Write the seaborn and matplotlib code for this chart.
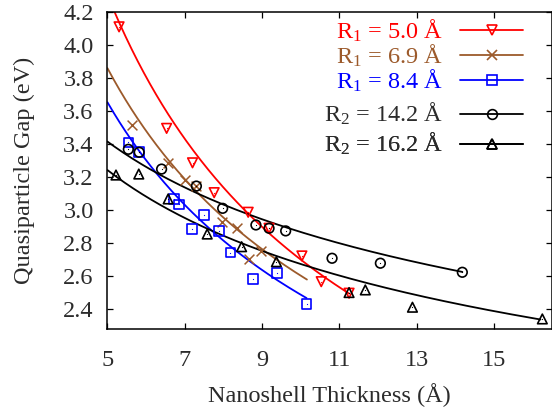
import numpy as np
import matplotlib
matplotlib.use('Agg')
import matplotlib.pyplot as plt
from matplotlib.lines import Line2D
import seaborn as sns

# values
r1_50_x = [5.30, 6.53, 7.20, 7.76, 8.64, 9.18, 10.03, 10.53, 11.25]
r1_50_y = [4.113, 3.497, 3.288, 3.107, 2.988, 2.891, 2.723, 2.567, 2.497]
r1_69_x = [5.64, 6.56, 7.00, 7.30, 7.95, 8.34, 8.66, 8.96]
r1_69_y = [3.517, 3.285, 3.184, 3.147, 2.931, 2.895, 2.703, 2.753]
r1_84_x = [5.54, 5.82, 6.72, 6.85, 7.18, 7.49, 7.89, 8.18, 8.77, 9.39, 10.15]
r1_84_y = [3.412, 3.355, 3.067, 3.036, 2.885, 2.971, 2.875, 2.743, 2.584, 2.618, 2.432]
r2_142_x = [5.54, 5.82, 6.40, 7.30, 7.98, 8.84, 9.18, 9.61, 10.81, 12.06, 14.18]
r2_142_y = [3.370, 3.352, 3.250, 3.147, 3.012, 2.911, 2.891, 2.875, 2.709, 2.679, 2.624]
r2_162_x = [5.22, 5.81, 6.57, 7.58, 8.47, 9.37, 11.25, 11.67, 12.89, 16.25]
r2_162_y = [3.214, 3.220, 3.069, 2.856, 2.779, 2.688, 2.501, 2.517, 2.412, 2.341]

labels = ['R$_1$ = 5.0 Å', 'R$_1$ = 6.9 Å', 'R$_1$ = 8.4 Å',
          'R$_2$ = 14.2 Å', 'R$_2$ = 16.2 Å']

# power-law fit curves (gap = A * d^-p)
fit_amp = [12.72, 9.65, 8.93, 5.13, 5.08]
fit_exp = [0.673, 0.569, 0.555, 0.2525, 0.2787]
fit_end = [11.25, 10.16, 10.15, 14.18, 16.2]

colors = ['#ff0000', '#9c5a2b', '#0000ff', '#000000', '#000000']
text_colors = ['#ff0000', '#9c5a2b', '#0000ff', '#2b2b2b', '#2b2b2b']
markers = ['v', 'x', 's', 'o', '^']
xs_all = [r1_50_x, r1_69_x, r1_84_x, r2_142_x, r2_162_x]
ys_all = [r1_50_y, r1_69_y, r1_84_y, r2_142_y, r2_162_y]

sns.set_theme(style='ticks')
plt.rcParams['font.family'] = ['Liberation Serif', 'DejaVu Serif']
plt.rcParams['mathtext.fontset'] = 'custom'
plt.rcParams['mathtext.rm'] = 'Liberation Serif'
plt.rcParams['mathtext.it'] = 'Liberation Serif:italic'
plt.rcParams['xtick.direction'] = 'in'
plt.rcParams['ytick.direction'] = 'in'
plt.rcParams['xtick.top'] = True
plt.rcParams['ytick.right'] = True

txt = '#2b2b2b'
fs = 17.5
fig = plt.figure(figsize=(5.52, 4.07), dpi=100)
ax = fig.add_axes([0.1947, 0.1917, 0.8053, 0.7776])

for x, y, c, m, A, p, end in zip(xs_all, ys_all, colors, markers,
                                 fit_amp, fit_exp, fit_end):
    xf = np.linspace(5, end, 200)
    sns.lineplot(x=xf, y=A * xf ** -p, color=c, lw=1.3, ax=ax, zorder=2)
    if m == 'x':
        sns.scatterplot(x=x, y=y, marker='x', s=50, color=c, linewidth=1.1,
                        ax=ax, zorder=3)
    else:
        sns.scatterplot(x=x, y=y, marker=m, s=48, facecolor='none',
                        edgecolor=c, linewidth=1.2, ax=ax, zorder=3)
        sns.scatterplot(x=x, y=y, marker='.', s=3, color=c, linewidth=0,
                        ax=ax, zorder=4)

yticks = [2.4, 2.6, 2.8, 3.0, 3.2, 3.4, 3.6, 3.8, 4.0, 4.2]
ax.set_xlim(5, 16.5)
ax.set_ylim(2.28, 4.2)
ax.set_xticks([5, 7, 9, 11, 13, 15])
ax.set_yticks(yticks)
ax.set_yticklabels([f'{v:.1f}' for v in yticks])
ax.tick_params(length=4.5, width=0.9, labelsize=fs, colors='black',
               labelcolor=txt)
ax.tick_params(axis='x', pad=15)
ax.tick_params(axis='y', pad=10)
for s in ax.spines.values():
    s.set_linewidth(1.1)
    s.set_color('black')

ax.set_xlabel('Nanoshell Thickness (Å)', fontsize=fs, color=txt, labelpad=9)
ax.set_ylabel('Quasiparticle Gap (eV)', fontsize=fs, color=txt, labelpad=20)

# one legend per row so the rows sit where the reference has them
row_y = [0.9425, 0.8635, 0.7845, 0.6784, 0.5836]
for i in range(5):
    h = Line2D([], [], color=colors[i], marker=markers[i], mfc='none',
               mec=colors[i], ms=7, lw=1.3, mew=1.2)
    leg = ax.legend([h], [labels[i]], loc='center right',
                    bbox_to_anchor=(0.935, row_y[i]), frameon=False,
                    markerfirst=False, labelcolor=[text_colors[i]],
                    handlelength=2.6, fontsize=fs, borderaxespad=0,
                    borderpad=0, handletextpad=0.7)
    ax.add_artist(leg)

fig.savefig('out.png', dpi=100)
